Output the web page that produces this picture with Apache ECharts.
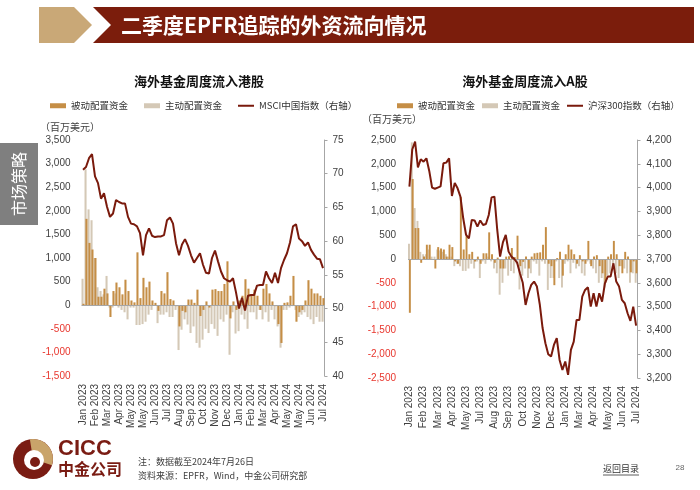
<!DOCTYPE html>
<html><head><meta charset="utf-8">
<script src="https://cdn.jsdelivr.net/npm/echarts@6/dist/echarts.min.js"></script>
<style>html,body{margin:0;padding:0;background:#fff}#c{width:700px;height:490px}</style>
</head><body><div id="c"></div>
<script>
const weeks = [
'Jan 2023','Jan 2023','Jan 2023',
'Feb 2023','Feb 2023','Feb 2023','Feb 2023',
'Mar 2023','Mar 2023','Mar 2023','Mar 2023','Mar 2023',
'Apr 2023','Apr 2023','Apr 2023','Apr 2023',
'May 2023','May 2023','May 2023','May 2023','May 2023',
'Jun 2023','Jun 2023','Jun 2023','Jun 2023',
'Jul 2023','Jul 2023','Jul 2023','Jul 2023',
'Aug 2023','Aug 2023','Aug 2023','Aug 2023','Aug 2023',
'Sep 2023','Sep 2023','Sep 2023','Sep 2023',
'Oct 2023','Oct 2023','Oct 2023','Oct 2023',
'Nov 2023','Nov 2023','Nov 2023','Nov 2023','Nov 2023',
'Dec 2023','Dec 2023','Dec 2023','Dec 2023',
'Jan 2024','Jan 2024','Jan 2024','Jan 2024','Jan 2024',
'Feb 2024','Feb 2024','Feb 2024','Feb 2024',
'Mar 2024','Mar 2024','Mar 2024','Mar 2024',
'Apr 2024','Apr 2024','Apr 2024','Apr 2024',
'May 2024','May 2024','May 2024','May 2024','May 2024',
'Jun 2024','Jun 2024','Jun 2024','Jun 2024',
'Jul 2024','Jul 2024','Jul 2024','Jul 2024'];

// 港股 (百万美元)
const hkPassive = [30,1830,1320,1180,1000,180,180,350,250,-250,
300,480,380,230,540,300,100,60,1120,150,
580,380,500,100,50,-120,300,250,700,130,
100,-20,-450,-120,-150,120,120,50,330,-230,
-100,80,-50,330,340,300,300,450,930,-280,
80,-100,100,200,550,350,200,330,200,-100,
350,450,250,80,-20,-400,-800,50,60,200,
620,-350,-150,-100,100,530,350,250,250,200,
150];
const hkActive = [560,2880,2030,1800,1000,380,300,230,620,-50,
-50,250,-50,-100,-150,-300,-50,-50,-420,-420,
-400,-350,-200,-100,0,-380,-200,-200,-150,-250,
-250,-100,-950,-520,-300,-410,-590,-450,-800,-900,
-730,-500,-590,-400,-500,-650,-300,-350,-200,-1050,
-150,-600,-550,-200,-300,-500,-150,-150,-300,-100,
-300,-150,-350,-100,-300,-450,-900,-100,-100,-50,
-20,-100,-250,-200,-150,-250,-300,-400,-250,-350,
-350];
const msciChina = [70.6,71.0,72.3,72.9,69.6,68.6,66.3,67.1,65.1,63.6,
64.1,66.1,65.8,65.6,65.6,63.6,62.6,62.5,62.2,61.2,
57.9,60.9,61.9,60.8,60.6,60.7,60.7,60.9,63.1,63.5,
62.6,59.7,57.9,59.5,60.3,59.3,57.9,56.8,57.5,58.2,
56.5,55.3,55.2,57.5,58.6,57.0,55.5,54.5,54.2,54.0,
54.5,52.4,50.0,51.6,49.7,51.9,52.0,52.0,53.4,53.5,
53.5,55.5,54.5,53.8,55.3,53.8,56.0,57.2,58.2,59.8,
62.2,62.5,60.4,60.0,59.3,59.8,58.7,58.0,57.4,57.3,
56.0];

// A股 (百万美元)
const aPassive = [-1130,1680,650,650,-80,50,300,300,0,-200,
250,220,200,50,300,250,-50,-100,1300,200,
480,100,150,-50,50,-100,120,120,560,100,
-80,30,-200,-200,50,60,230,40,490,-150,
-60,50,-200,50,120,130,140,300,670,-100,
-150,-550,20,150,-350,100,300,200,100,-100,
80,-50,-100,380,-150,50,80,-150,-300,-500,
50,100,380,100,-150,-300,150,50,-280,-50,
-300];
const aActive = [320,2450,1070,800,150,100,100,200,50,50,
200,180,150,100,50,50,-150,-100,-150,-250,
-250,-200,-100,-200,-50,-400,-50,-100,50,-50,
-200,-300,-750,-500,-200,-350,-250,-300,-100,-640,
-350,-200,-400,-300,-50,-100,-350,-50,-100,-650,
-400,-400,-50,-400,-600,-100,-50,-300,-80,-200,
-150,-300,-350,-50,-100,-200,-300,-500,-400,-600,
-350,-300,-100,-300,-400,-150,-200,-300,-500,-300,
-500];
const csi300 = [4004,4160,4193,4085,4119,4109,4123,4070,4000,3995,
4000,4005,4102,4105,4123,3965,4020,3997,3962,3870,
3801,3787,3864,3862,3836,3862,3843,3847,3885,3959,
3962,3822,3710,3770,3801,3731,3710,3700,3685,3640,
3600,3507,3556,3591,3605,3584,3510,3410,3346,3300,
3290,3339,3367,3276,3234,3269,3213,3318,3353,3444,
3444,3542,3570,3581,3500,3556,3500,3556,3521,3598,
3626,3626,3682,3605,3584,3528,3514,3472,3440,3500,
3420];

const hkFlowAxis = {min:-1500, max:3500, interval:500};
const hkIndexAxis = {min:40, max:75, interval:5};
const aFlowAxis = {min:-2500, max:2500, interval:500};
const aIndexAxis = {min:3200, max:4200, interval:100};

const nameP = '被动配置资金', nameA = '主动配置资金';
const nameMsci = 'MSCI中国指数（右轴）', nameCsi = '沪深300指数（右轴）';

const FONT = '"Liberation Sans", Arial, "Noto Sans CJK SC", sans-serif';
const CJK = '"Noto Sans CJK SC", "Liberation Sans", sans-serif';
const GOLD = '#c58e46', BEIGE = '#d4c8b6', LINE = '#7a1a0c', BROWN = '#7b1d0c', TAN = '#c9a877';
// thin line legend icon: bounding box 16x5 with a 2px bar in the middle
const LINE_ICON = 'path://M0,0L0.01,0L0,0.01Z M0,1.6L16,1.6L16,3.4L0,3.4Z M16,5L15.99,5L16,4.99Z';

function fmtNum(v){ const s = Math.abs(v).toLocaleString('en-US'); return v < 0 ? '{neg|-' + s + '}' : s; }
function flowAxis(grid, r, margin){
  return {type:'value', gridIndex:grid, min:r.min, max:r.max, interval:r.interval,
    splitLine:{show:false}, axisLine:{show:false}, axisTick:{show:false},
    axisLabel:{fontSize:10, color:'#404040', fontFamily:FONT, margin:margin, formatter:fmtNum,
      rich:{neg:{color:'#e8362d', fontSize:10, fontFamily:FONT}}}};
}
function idxAxis(grid, r, margin){
  return {type:'value', gridIndex:grid, position:'right', min:r.min, max:r.max, interval:r.interval,
    splitLine:{show:false}, axisLine:{show:true, lineStyle:{color:'#a6a6a6', width:1}},
    axisTick:{show:true, length:3, lineStyle:{color:'#a6a6a6'}},
    axisLabel:{fontSize:10, color:'#404040', fontFamily:FONT, margin:margin,
      formatter:v => v.toLocaleString('en-US')}};
}
function catAxis(grid, interval){
  return {type:'category', gridIndex:grid, data:weeks, boundaryGap:true,
    axisLine:{show:false}, axisTick:{show:false},
    axisLabel:{rotate:90, interval:interval, fontSize:10, color:'#404040', fontFamily:FONT, margin:8}};
}
const zeroLine = {silent:true, symbol:'none', label:{show:false},
  lineStyle:{color:'#a6a6a6', width:1, type:'solid'}, data:[{yAxis:0}], animation:false};
function bars(x, y, name, data, color, withZero){
  const s = {type:'bar', name:name, xAxisIndex:x, yAxisIndex:y, data:data,
    itemStyle:{color:color}, barGap:'-55%', barCategoryGap:'0%', animation:false};
  if (withZero) s.markLine = zeroLine;
  return s;
}
function line(x, y, name, data){
  return {type:'line', name:name, xAxisIndex:x, yAxisIndex:y, data:data, symbol:'none',
    lineStyle:{color:LINE, width:2}, itemStyle:{color:LINE}, z:5, animation:false};
}

const chart = echarts.init(document.getElementById('c'), null, {renderer:'canvas'});
const legendText = {fontSize:9.5, color:'#333', fontFamily:CJK};
chart.setOption({
  animation:false,
  textStyle:{fontFamily:FONT},
  grid:[
    {left:81.5, top:140, width:243, height:236},
    {left:408, top:140, width:229.5, height:238}
  ],
  xAxis:[catAxis(0,3), catAxis(1,4)],
  yAxis:[flowAxis(0,hkFlowAxis,11), idxAxis(0,hkIndexAxis,8), flowAxis(1,aFlowAxis,12), idxAxis(1,aIndexAxis,9)],
  legend:[
    {left:45, top:96, width:340, itemWidth:16, itemHeight:5, itemGap:16, textStyle:legendText,
     data:[{name:nameP, icon:'rect'}, {name:nameA, icon:'rect'}, {name:nameMsci, icon:LINE_ICON}]},
    {left:392, top:96, width:340, itemWidth:16, itemHeight:5, itemGap:7, textStyle:legendText,
     data:[{name:nameP, icon:'rect'}, {name:nameA, icon:'rect'}, {name:nameCsi, icon:LINE_ICON}]}
  ],
  series:[
    bars(0,0,nameA,hkActive,BEIGE,true),
    bars(0,0,nameP,hkPassive,GOLD,false),
    line(0,1,nameMsci,msciChina),
    bars(1,2,nameA,aActive,BEIGE,true),
    bars(1,2,nameP,aPassive,GOLD,false),
    line(1,3,nameCsi,csi300)
  ],
  graphic:[
    {type:'polygon', shape:{points:[[39,7],[74,7],[92,25],[74,43],[39,43]]}, style:{fill:TAN}, silent:true},
    {type:'polygon', shape:{points:[[93,7],[694,7],[694,43],[93,43],[111,25]]}, style:{fill:BROWN}, silent:true},
    {type:'text', x:121, y:25, silent:true,
     style:{text:'二季度EPFR追踪的外资流向情况', fill:'#fff', font:'bold 21px "Noto Sans CJK SC"',
            textAlign:'left', textVerticalAlign:'middle', align:'left', verticalAlign:'middle'}},
    {type:'rect', shape:{x:0, y:143, width:38, height:82}, style:{fill:'#7f7f7f'}, silent:true},
    {type:'text', x:19, y:184, rotation:Math.PI/2, silent:true,
     style:{text:'市场策略', fill:'#fff', font:'16px "Noto Sans CJK SC"',
            textAlign:'center', textVerticalAlign:'middle', align:'center', verticalAlign:'middle'}},
    {type:'text', x:199, y:81, silent:true,
     style:{text:'海外基金周度流入港股', fill:'#111', font:'bold 13px "Noto Sans CJK SC"',
            textAlign:'center', textVerticalAlign:'middle', align:'center', verticalAlign:'middle'}},
    {type:'text', x:525, y:81, silent:true,
     style:{text:'海外基金周度流入A股', fill:'#111', font:'bold 13px "Noto Sans CJK SC"',
            textAlign:'center', textVerticalAlign:'middle', align:'center', verticalAlign:'middle'}},
    {type:'text', x:40, y:127, silent:true,
     style:{text:'（百万美元）', fill:'#404040', font:'10px "Noto Sans CJK SC"',
            textAlign:'left', textVerticalAlign:'middle', align:'left', verticalAlign:'middle'}},
    {type:'text', x:362, y:119, silent:true,
     style:{text:'（百万美元）', fill:'#404040', font:'10px "Noto Sans CJK SC"',
            textAlign:'left', textVerticalAlign:'middle', align:'left', verticalAlign:'middle'}},
    // logo
    {type:'circle', shape:{cx:33, cy:459, r:20}, style:{fill:'#7a1c13'}, silent:true},
    {type:'sector', shape:{cx:33, cy:459, r:20, r0:0, startAngle:-Math.PI*0.55, endAngle:Math.PI*0.1}, style:{fill:'#c9a46a'}, silent:true},
    {type:'circle', shape:{cx:34, cy:460, r:10}, style:{fill:'#fff'}, silent:true},
    {type:'circle', shape:{cx:35, cy:462, r:5}, style:{fill:'#7a1c13'}, silent:true},
    {type:'text', x:58, y:449, silent:true,
     style:{text:'CICC', fill:'#7a1c13', font:'bold 22px "Liberation Sans"',
            textAlign:'left', textVerticalAlign:'middle', align:'left', verticalAlign:'middle'}},
    {type:'text', x:58, y:469, silent:true,
     style:{text:'中金公司', fill:'#7a1c13', font:'bold 16px "Noto Sans CJK SC"',
            textAlign:'left', textVerticalAlign:'middle', align:'left', verticalAlign:'middle'}},
    {type:'text', x:138, y:462, silent:true,
     style:{text:'注：数据截至2024年7月26日', fill:'#404040', font:'9px "Noto Sans CJK SC"',
            textAlign:'left', textVerticalAlign:'middle', align:'left', verticalAlign:'middle'}},
    {type:'text', x:138, y:476, silent:true,
     style:{text:'资料来源：EPFR，Wind，中金公司研究部', fill:'#404040', font:'9px "Noto Sans CJK SC"',
            textAlign:'left', textVerticalAlign:'middle', align:'left', verticalAlign:'middle'}},
    {type:'text', x:621, y:469, silent:true,
     style:{text:'返回目录', fill:'#333', font:'9px "Noto Sans CJK SC"',
            textAlign:'center', textVerticalAlign:'middle', align:'center', verticalAlign:'middle'}},
    {type:'line', shape:{x1:603, y1:475, x2:639, y2:475}, style:{stroke:'#333', lineWidth:0.8}, silent:true},
    {type:'text', x:680, y:468, silent:true,
     style:{text:'28', fill:'#666', font:'8px "Liberation Sans"',
            textAlign:'center', textVerticalAlign:'middle', align:'center', verticalAlign:'middle'}}
  ]
});
</script>
</body></html>
